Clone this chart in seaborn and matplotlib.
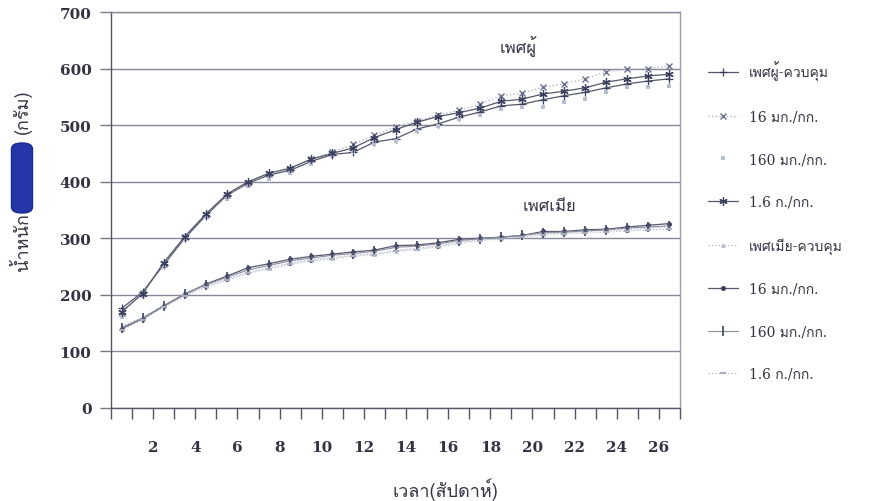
import numpy as np
import pandas as pd
import seaborn as sns
import matplotlib
matplotlib.use("Agg")
import matplotlib.pyplot as plt
from matplotlib import font_manager
from matplotlib.lines import Line2D
from matplotlib.patches import FancyBboxPatch

# ---------------- data ----------------
weeks = list(range(0, 27))
week_labels = [2, 4, 6, 8, 10, 12, 14, 16, 18, 20, 22, 24, 26]
y_ticks = [0, 100, 200, 300, 400, 500, 600, 700]

male_control = [176, 205, 253, 300, 340, 376, 397, 412, 420, 436, 448, 452, 470, 476, 493, 502,
                514, 523, 534, 537, 545, 552, 558, 566, 573, 578, 582]
male_16mg = [168, 203, 255, 302, 342, 376, 398, 414, 422, 440, 452, 466, 482, 497, 507, 518,
             526, 537, 552, 556, 567, 573, 582, 594, 599, 600, 605]
male_160mg = [160, 198, 250, 298, 338, 370, 392, 405, 415, 432, 445, 452, 466, 472, 490, 498,
              510, 518, 528, 532, 532, 541, 546, 558, 567, 567, 569]
male_1_6g = [170, 202, 257, 303, 343, 378, 400, 415, 424, 440, 450, 460, 478, 492, 505, 515,
             522, 530, 542, 546, 555, 560, 566, 576, 582, 587, 590]

female_control = [145, 160, 182, 200, 216, 228, 240, 248, 256, 262, 266, 270, 273, 278, 282, 287,
                  293, 298, 301, 304, 308, 310, 312, 314, 315, 318, 320]
female_16mg = [140, 158, 180, 201, 219, 233, 248, 255, 263, 268, 272, 276, 279, 287, 288, 292,
               298, 300, 302, 305, 312, 312, 315, 316, 320, 323, 326]
female_160mg = [142, 159, 181, 202, 218, 231, 244, 252, 260, 265, 270, 273, 277, 284, 286, 290,
                296, 299, 302, 305, 310, 311, 313, 315, 318, 320, 322]
female_1_6g = [138, 156, 178, 198, 214, 226, 238, 246, 254, 260, 264, 268, 271, 277, 280, 285,
               291, 296, 299, 302, 306, 308, 310, 311, 313, 315, 316]

series_labels = ["เพศผู้-ควบคุม", "16 มก./กก.", "160 มก./กก.", "1.6 ก./กก.",
                 "เพศเมีย-ควบคุม", "16 มก./กก.", "160 มก./กก.", "1.6 ก./กก."]
series_values = [male_control, male_16mg, male_160mg, male_1_6g,
                 female_control, female_16mg, female_160mg, female_1_6g]

# ---------------- fonts ----------------
def find_font_with(codepoint):
    try:
        from fontTools.ttLib import TTFont
    except Exception:
        return None
    for f in font_manager.fontManager.ttflist:
        try:
            tt = TTFont(f.fname, fontNumber=0, lazy=True)
            cmap = tt.getBestCmap()
            if cmap and codepoint in cmap and 0x0E49 in cmap:
                return f.name
        except Exception:
            continue
    return None

thai_font = find_font_with(0x0E01)
thai_family = [thai_font, "DejaVu Serif"] if thai_font else ["DejaVu Serif"]
mixed_family = ["DejaVu Serif", thai_font] if thai_font else ["DejaVu Serif"]

sns.set_theme(style="white")
plt.rcParams["font.family"] = ["DejaVu Serif"]

# ---------------- figure ----------------
W, H = 873, 502
fig = plt.figure(figsize=(W / 100, H / 100), dpi=100)
fig.patch.set_facecolor("white")
ax = fig.add_axes([111 / W, 1 - 409 / H, (680 - 111) / W, (409 - 13) / H])
ax.set_facecolor("white")

dark = "#3c4060"
line_c = "#55586a"
light = "#b4b8c6"

styles = [
    dict(color=line_c, marker="+", markersize=6, markeredgewidth=0.9, linestyle="-", linewidth=0.9,
         markeredgecolor=dark),
    dict(color=light, marker="x", markersize=5, markeredgewidth=1.0, linestyle=":", linewidth=1.0,
         markeredgecolor="#6a6f90"),
    dict(color=light, marker="s", markersize=3.2, markeredgewidth=0, linestyle="none",
         markerfacecolor="#b8bdd0"),
    dict(color=line_c, marker=(6, 2, 0), markersize=6, markeredgewidth=0.9, linestyle="-", linewidth=0.9,
         markeredgecolor=dark),
    dict(color=light, marker="^", markersize=3.5, markeredgewidth=0, linestyle=":", linewidth=0.9,
         markerfacecolor="#b8bdd0"),
    dict(color=line_c, marker="o", markersize=3.6, markeredgewidth=0, linestyle="-", linewidth=0.9,
         markerfacecolor=dark),
    dict(color="#8a8ea0", marker="|", markersize=7, markeredgewidth=1.3, linestyle="-", linewidth=0.8,
         markeredgecolor="#4a4e6a"),
    dict(color=light, marker="_", markersize=5, markeredgewidth=1.5, linestyle=":", linewidth=0.9,
         markeredgecolor="#a8adc0"),
]

for lab, vals, st in zip(series_labels, series_values, styles):
    df = pd.DataFrame({"week": weeks, "weight": vals})
    sns.lineplot(data=df, x="week", y="weight", ax=ax, legend=False, **st)

ax.set_xlim(-0.5, 26.5)
ax.set_ylim(0, 700)
ax.set_xlabel("")
ax.set_ylabel("")

# x ticks: marks at category boundaries, labels every 2 weeks
tick_pos = [w - 0.5 for w in range(0, 28)]
tick_txt = [""] * len(tick_pos)
for wl in week_labels:
    tick_txt[wl] = str(wl)
ax.set_xticks(tick_pos)
ax.set_xticklabels(tick_txt, fontsize=11, fontweight="bold", color="#333344")
ax.tick_params(axis="x", direction="out", length=8, width=1.0, color="#555566", pad=15, bottom=True)

ax.set_yticks(y_ticks)
ax.set_yticklabels([str(v) for v in y_ticks], fontsize=11, fontweight="bold", color="#333344")
ax.tick_params(axis="y", direction="out", length=8, width=1.0, color="#777788", pad=6, left=True)

ax.grid(axis="y", color="#858896", linewidth=1.0)
ax.grid(axis="x", visible=False)
ax.set_axisbelow(True)
for side, sp in ax.spines.items():
    sp.set_visible(True)
    sp.set_linewidth(1.0)
ax.spines["left"].set_color("#555566")
ax.spines["bottom"].set_color("#555566")
ax.spines["right"].set_color("#9a9daa")
ax.spines["top"].set_color("#858896")

# annotations
ax.text(18.8, 640, "เพศผู้", fontsize=12, family=thai_family, color="#333344",
        ha="center", va="center")
ax.text(20.3, 357, "เพศเมีย", fontsize=12, family=thai_family, color="#333344",
        ha="center", va="center")

# axis titles
fig.text(445 / W, 1 - 490 / H, "เวลา(สัปดาห์)", fontsize=13, family=thai_family,
         color="#333344", ha="center", va="center")
fig.text(22 / W, 1 - 242 / H, "น้ำหนัก", fontsize=13, family=thai_family, rotation=90,
         color="#333344", ha="center", va="center")
fig.text(22 / W, 1 - 112 / H, "(กรัม)", fontsize=13, family=thai_family, rotation=90,
         color="#333344", ha="center", va="center")
blob = FancyBboxPatch((15 / W, 1 - 212 / H), 14 / W, 66 / H,
                      boxstyle="round,pad=0.004,rounding_size=0.012",
                      transform=fig.transFigure, facecolor="#2436a8", edgecolor="#1a2a90",
                      linewidth=1.0, zorder=5)
fig.patches.append(blob)

# legend
handles = [Line2D([0], [0], **{k: v for k, v in st.items()}) for st in styles]
leg = fig.legend(handles, series_labels, loc="center left",
                 bbox_to_anchor=(695 / W, 1 - 222 / H), frameon=False,
                 labelspacing=2.05, handlelength=2.2, handletextpad=0.8,
                 prop=font_manager.FontProperties(family=mixed_family, size=10))
for t in leg.get_texts():
    t.set_color("#333344")

fig.savefig("out.png", dpi=100, facecolor="white")
